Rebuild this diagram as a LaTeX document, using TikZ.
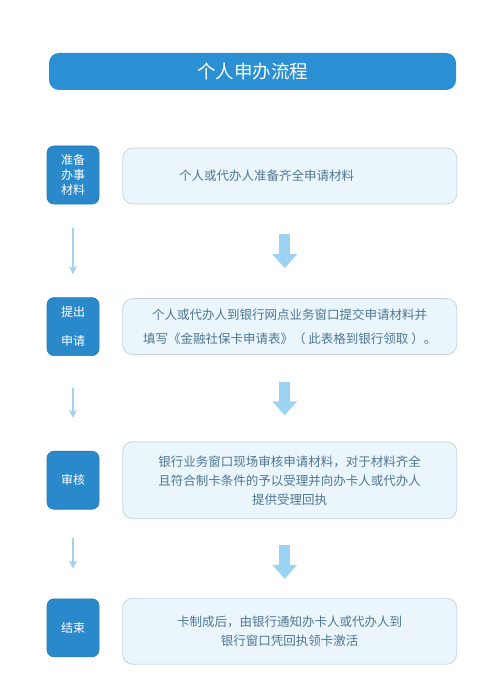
\documentclass[tikz,border=0pt]{standalone}
\usepackage{fontspec}
\setmainfont{Noto Sans CJK SC}
\usepackage{xcolor}
\usepackage{tikz}
\usetikzlibrary{arrows.meta,positioning}

\definecolor{headblue}{HTML}{2A8FD3}
\definecolor{stepblue}{HTML}{2A89CB}
\definecolor{stepedge}{HTML}{2378B4}
\definecolor{notefill}{HTML}{EBF5FC}
\definecolor{noteedge}{HTML}{C6D5E0}
\definecolor{notetext}{HTML}{4E7893}
\definecolor{thinblue}{HTML}{A3D2EC}
\definecolor{fatblue}{HTML}{9DD3F2}

\begin{document}
\begin{tikzpicture}[
    x=1pt, y=1pt,
    headbox/.style={rectangle, fill=headblue, rounded corners=10pt, minimum width=407pt, minimum height=37pt, text=white, font=\fontsize{18.5}{22}\selectfont},
    stepbox/.style={rectangle, fill=stepblue, draw=stepedge, line width=0.6pt, rounded corners=7pt, align=center, minimum width=52pt, minimum height=58pt, text=white, inner sep=0pt, font=\fontsize{12}{15}\selectfont},
    notebox/.style={rectangle, fill=notefill, draw=noteedge, line width=0.8pt, rounded corners=10pt, align=center, minimum width=334pt, minimum height=56pt, text=notetext, inner sep=0pt, font=\fontsize{12.5}{19}\selectfont},
    thinarrow/.style={-{Stealth[length=8pt, width=8pt, inset=2pt]}, line width=1.2pt, draw=thinblue},
    fatarrow/.style={-{Triangle[length=14pt, width=24pt]}, line width=11pt, draw=fatblue}
]
    \useasboundingbox (0,0) rectangle (500,-687);

    \node [headbox] (head) at (252.5,-71.5) {个人申办流程};

    % left column
    \node [stepbox] (s1) at (73,-175) {准备\\办事\\材料};
    \node [stepbox, below=93pt of s1] (s2) {提出\\[14pt]申请};
    \node [stepbox, below=95pt of s2] (s3) {审核};
    \node [stepbox, below=89pt of s3] (s4) {结束};

    % right column
    \node [notebox, right=23pt of s1, yshift=-1pt] (n1) {};
    \node [text=notetext, font=\fontsize{12.5}{19}\selectfont] (t1) at ([xshift=-23pt]n1.center) {个人或代办人准备齐全申请材料};
    \node [notebox, right=23pt of s2] (n2) {个人或代办人到银行网点业务窗口提交申请材料并\\[5pt]填写《金融社保卡申请表》（ 此表格到银行领取 ）。};
    \node [notebox, right=23pt of s3, minimum height=77pt] (n3) {银行业务窗口现场审核申请材料，对于材料齐全\\且符合制卡条件的予以受理并向办卡人或代办人\\提供受理回执};
    \node [notebox, right=23pt of s4, yshift=-3.5pt, minimum height=66pt] (n4) {卡制成后，由银行通知办卡人或代办人到\\银行窗口凭回执领卡激活};

    % arrows
    \draw [thinarrow, shorten <=24pt, shorten >=23pt] (s1) -- (s2);
    \draw [thinarrow, shorten <=32pt, shorten >=33pt] (s2) -- (s3);
    \draw [thinarrow, shorten <=28pt, shorten >=30pt] (s3) -- (s4);

    \draw [fatarrow, shorten <=30pt, shorten >=30pt] ([xshift=-5pt]n1.south) -- ([xshift=-5pt]n2.north);
    \draw [fatarrow, shorten <=27pt, shorten >=26pt] ([xshift=-5pt]n2.south) -- ([xshift=-5pt]n3.north);
    \draw [fatarrow, shorten <=26pt, shorten >=19pt] ([xshift=-5pt]n3.south) -- ([xshift=-5pt]n4.north);
\end{tikzpicture}
\end{document}
